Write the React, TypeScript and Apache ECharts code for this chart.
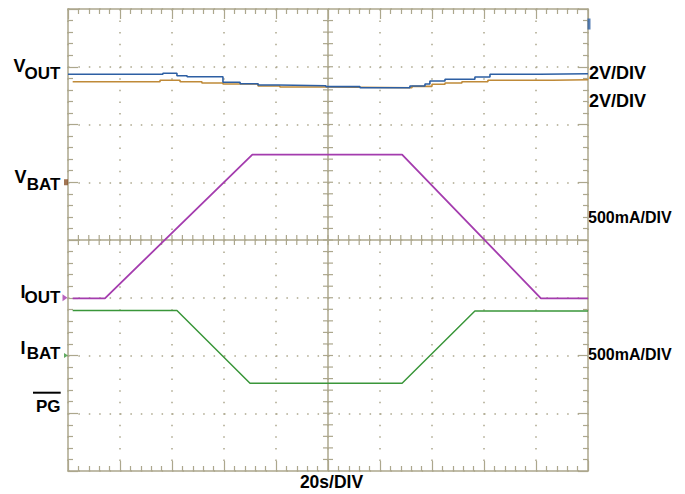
import React, { useEffect, useRef } from "react";
import * as echarts from "echarts";

// Time axis: seconds (20 s / division, 10 divisions). Vertical axis: screen divisions (8).
const TIME_MIN = 0;
const TIME_MAX = 200;
const TIME_STEP = 20;
const DIV_MIN = 0;
const DIV_MAX = 8;
const DIV_STEP = 1;
const CENTER_T = 100;
const CENTER_DIV = 4;

// VOUT traces (step-wise, in divisions)
const voutBlue: [number, number][] = [
  [0, 6.869], [36.5, 6.887], [41.9, 6.845], [45.8, 6.828], [59.6, 6.731],
  [66.2, 6.706], [73.1, 6.684], [80.8, 6.672], [99.2, 6.655], [112.3, 6.637],
  [131.5, 6.667], [137.3, 6.701], [139.2, 6.753], [145, 6.783], [156.5, 6.823],
  [162.3, 6.869], [181.5, 6.880], [200, 6.880],
];
const voutOrange: [number, number][] = [
  [1.8, 6.741], [35.4, 6.766], [43.1, 6.741], [51.5, 6.719], [59.6, 6.701],
  [73.1, 6.667], [81.5, 6.649], [100.8, 6.637], [132.3, 6.661], [140, 6.696],
  [145, 6.719], [151.5, 6.741], [161.5, 6.766], [186.5, 6.776], [200, 6.776],
];
// Magenta trace (IOUT)
const ioutTrace: [number, number][] = [
  [1.8, 2.99], [14.2, 2.99], [70.9, 5.48], [128.5, 5.48], [181.9, 2.99], [200, 2.99],
];
// Green trace (IBAT)
const ibatTrace: [number, number][] = [
  [1.8, 2.78], [41.9, 2.78], [70, 1.52], [128.5, 1.52], [156.5, 2.77], [200, 2.77],
];
// Channel reference markers
const vbatMarker: [number, number][] = [[0, 5.0]];
const ioutMarker: [number, number][] = [[0, 3.0]];
const ibatMarker: [number, number][] = [[0, 2.0]];
const voutMarker: [number, number][] = [[200, 7.74]];

const rightLabels = ["2V/DIV", "2V/DIV", "500mA/DIV", "500mA/DIV"];
const timeLabel = "20s/DIV";

const GRID_COLOR = "#aca78d";
const BLUE = "#2d5fa3";
const ORANGE = "#bf8a38";
const PURPLE = "#a43cae";
const GREEN = "#3a963a";
const FONT = '"Liberation Sans", Arial, sans-serif';

function xAxisDef(position: "bottom" | "top", split: boolean) {
  return {
    type: "value",
    position,
    min: TIME_MIN,
    max: TIME_MAX,
    interval: TIME_STEP,
    axisLine: { show: true, onZero: false, lineStyle: { color: GRID_COLOR, width: 1.5 } },
    axisTick: { show: true, inside: true, length: 10, lineStyle: { color: GRID_COLOR, width: 1.2 } },
    minorTick: { show: true, splitNumber: 5, length: 5, lineStyle: { color: GRID_COLOR, width: 1.2 } },
    axisLabel: { show: false },
    splitLine: {
      show: split,
      lineStyle: { color: GRID_COLOR, width: 1.5, type: [1.5, 10.05] },
    },
  };
}

function yAxisDef(position: "left" | "right", split: boolean) {
  return {
    type: "value",
    position,
    min: DIV_MIN,
    max: DIV_MAX,
    interval: DIV_STEP,
    axisLine: { show: true, onZero: false, lineStyle: { color: GRID_COLOR, width: 1.5 } },
    axisTick: { show: true, inside: true, length: 10, lineStyle: { color: GRID_COLOR, width: 1.2 } },
    minorTick: { show: true, splitNumber: 5, length: 5, lineStyle: { color: GRID_COLOR, width: 1.2 } },
    axisLabel: { show: false },
    splitLine: {
      show: split,
      lineStyle: { color: GRID_COLOR, width: 1.5, type: [1.5, 8.9] },
    },
  };
}

function txt(text: string, x: number, y: number, align: string, size = 17) {
  return {
    type: "text",
    x,
    y,
    silent: true,
    style: {
      text,
      fill: "#000",
      fontSize: size,
      fontWeight: "bold",
      fontFamily: FONT,
      align,
      verticalAlign: "middle",
    },
  };
}

export default function App() {
  const ref = useRef<HTMLDivElement>(null);

  useEffect(() => {
    if (!ref.current) return;
    const chart = echarts.init(ref.current, null, { renderer: "svg" });

    const option: any = {
      animation: false,
      backgroundColor: "#ffffff",
      grid: { left: 68, top: 9, width: 520, height: 462, show: false },
      xAxis: [xAxisDef("bottom", true), xAxisDef("top", false)],
      yAxis: [yAxisDef("left", true), yAxisDef("right", false)],
      series: [
        {
          type: "custom",
          name: "center",
          silent: true,
          clip: false,
          z: 1,
          data: [[CENTER_T, CENTER_DIV]],
          renderItem: (_params: any, api: any) => {
            const children: any[] = [];
            const [cx, top] = api.coord([CENTER_T, DIV_MAX]);
            const [, bottom] = api.coord([CENTER_T, DIV_MIN]);
            const [left, cy] = api.coord([TIME_MIN, CENTER_DIV]);
            const [right] = api.coord([TIME_MAX, CENTER_DIV]);
            const st = { stroke: GRID_COLOR, lineWidth: 1.5 };
            children.push({ type: "line", shape: { x1: cx, y1: top, x2: cx, y2: bottom }, style: st });
            children.push({ type: "line", shape: { x1: left, y1: cy, x2: right, y2: cy }, style: st });
            const stT = { stroke: GRID_COLOR, lineWidth: 1.2 };
            for (let i = 1; i < 50; i++) {
              const t = (TIME_STEP / 5) * i;
              const [x] = api.coord([t, CENTER_DIV]);
              children.push({ type: "line", shape: { x1: x, y1: cy - 5, x2: x, y2: cy + 5 }, style: stT });
            }
            for (let i = 1; i < 40; i++) {
              const d = (DIV_STEP / 5) * i;
              const [, y] = api.coord([CENTER_T, d]);
              children.push({ type: "line", shape: { x1: cx - 5, y1: y, x2: cx + 5, y2: y }, style: stT });
            }
            return { type: "group", children };
          },
        },
        {
          type: "line",
          name: "VOUT2",
          data: voutOrange,
          step: "end",
          showSymbol: false,
          z: 3,
          lineStyle: { color: ORANGE, width: 1.6 },
        },
        {
          type: "line",
          name: "VOUT1",
          data: voutBlue,
          step: "end",
          showSymbol: false,
          z: 4,
          lineStyle: { color: BLUE, width: 1.6 },
        },
        {
          type: "line",
          name: "IOUT",
          data: ioutTrace,
          showSymbol: false,
          z: 5,
          lineStyle: { color: PURPLE, width: 1.8 },
        },
        {
          type: "line",
          name: "IBAT",
          data: ibatTrace,
          showSymbol: false,
          z: 5,
          lineStyle: { color: GREEN, width: 1.5 },
        },
        {
          type: "scatter",
          clip: false,
          z: 6,
          data: vbatMarker,
          symbol: "rect",
          symbolSize: [4, 6],
          symbolOffset: [-2, 0],
          itemStyle: { color: "#8a5228" },
        },
        {
          type: "scatter",
          clip: false,
          z: 6,
          data: ioutMarker,
          symbol: "triangle",
          symbolRotate: -90,
          symbolSize: [7, 5],
          symbolOffset: [-3, 0],
          itemStyle: { color: PURPLE },
        },
        {
          type: "scatter",
          clip: false,
          z: 6,
          data: ibatMarker,
          symbol: "triangle",
          symbolRotate: -90,
          symbolSize: [5, 4],
          symbolOffset: [-2, 0],
          itemStyle: { color: GREEN },
        },
        {
          type: "scatter",
          clip: false,
          z: 6,
          data: voutMarker,
          symbol: "rect",
          symbolSize: [3, 11],
          symbolOffset: [1, 0],
          itemStyle: { color: BLUE },
        },
      ],
      graphic: [
        txt("V", 25.5, 66, "right", 18),
        txt("OUT", 60.5, 73.5, "right"),
        txt("V", 26.5, 176.5, "right", 18),
        txt("BAT", 60.5, 184, "right"),
        txt("I", 25.5, 291.5, "right", 18),
        txt("OUT", 60.5, 297.5, "right"),
        txt("I", 25.5, 347.5, "right", 18),
        txt("BAT", 60.5, 353.5, "right"),
        txt("PG", 60.5, 406.5, "right"),
        {
          type: "line",
          silent: true,
          shape: { x1: 33, y1: 392.7, x2: 60.7, y2: 392.7 },
          style: { stroke: "#000", lineWidth: 2 },
        },
        txt(rightLabels[0], 589, 73.2, "left", 18),
        txt(rightLabels[1], 589, 100.8, "left", 18),
        txt(rightLabels[2], 588, 217.5, "left", 16),
        txt(rightLabels[3], 588, 354.2, "left", 16),
        txt(timeLabel, 331.5, 481.7, "center", 17.5),
      ],
    };

    chart.setOption(option);
    return () => chart.dispose();
  }, []);

  return (
    <div
      ref={ref}
      style={{ position: "fixed", left: 0, top: 0, width: 685, height: 494, background: "#fff" }}
    />
  );
}
